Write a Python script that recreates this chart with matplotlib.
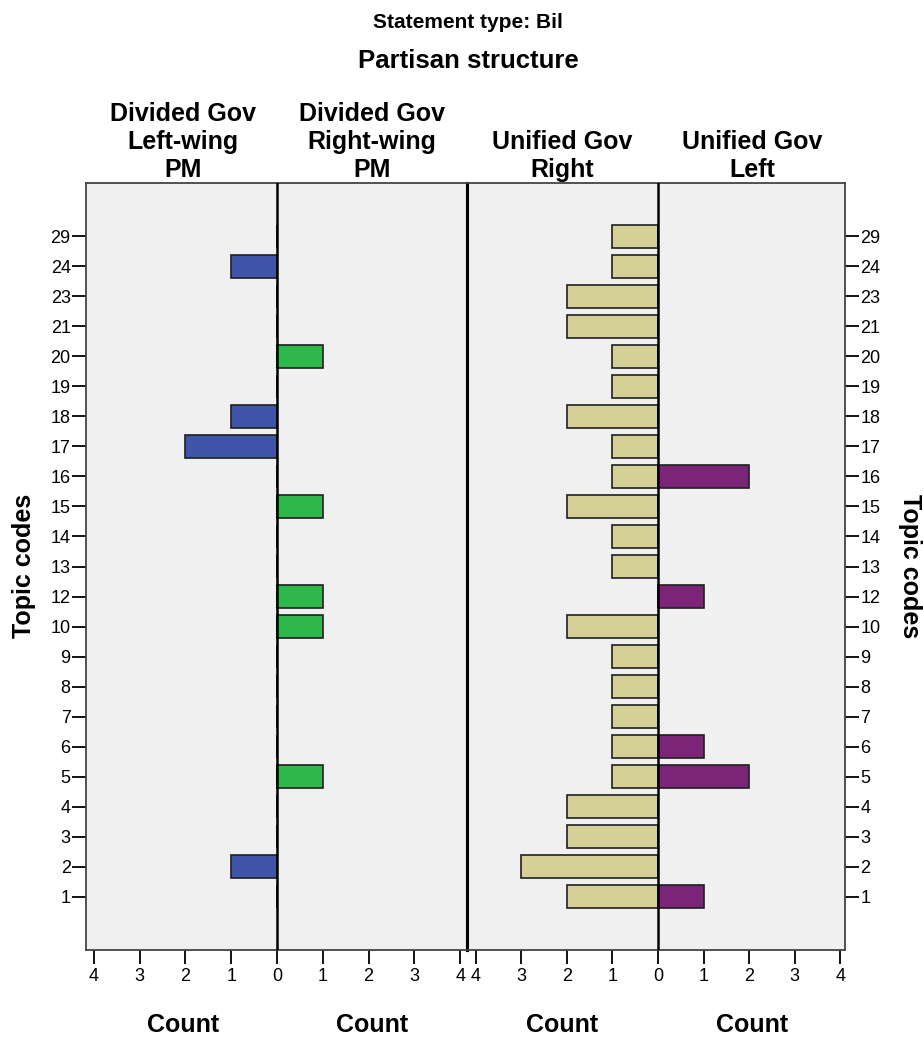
import matplotlib.pyplot as plt
import numpy as np

plt.rcParams['font.family'] = ['Liberation Sans', 'DejaVu Sans']

# topic codes, top to bottom
topics = ["29", "24", "23", "21", "20", "19", "18", "17", "16", "15", "14", "13",
          "12", "10", "9", "8", "7", "6", "5", "4", "3", "2", "1"]

# counts per topic for each partisan structure
div_left = [0, 1, 0, 0, 0, 0, 1, 2, 0, 0, 0, 0, 0, 0, 0, 0, 0, 0, 0, 0, 0, 1, 0]
div_right = [0, 0, 0, 0, 1, 0, 0, 0, 0, 1, 0, 0, 1, 1, 0, 0, 0, 0, 1, 0, 0, 0, 0]
uni_right = [1, 1, 2, 2, 1, 1, 2, 1, 1, 2, 1, 1, 0, 2, 1, 1, 1, 1, 1, 2, 2, 3, 2]
uni_left = [0, 0, 0, 0, 0, 0, 0, 0, 2, 0, 0, 0, 1, 0, 0, 0, 0, 1, 2, 0, 0, 0, 1]

headers = ["Divided Gov\nLeft-wing\nPM", "Divided Gov\nRight-wing\nPM",
           "Unified Gov\nRight", "Unified Gov\nLeft"]

W, H = 923, 1038
fig = plt.figure(figsize=(W / 100, H / 100), dpi=100)

top, bot = 183, 950
ax1 = fig.add_axes([86 / W, (H - bot) / H, (467 - 86) / W, (bot - top) / H])
ax2 = fig.add_axes([467 / W, (H - bot) / H, (845 - 467) / W, (bot - top) / H])

y = np.arange(len(topics))
bh = 0.74
ec = "#202020"

ax1.barh(y, [-v for v in div_left], height=bh, color="#3E55A9", edgecolor=ec, linewidth=1.2, zorder=2)
ax1.barh(y, div_right, height=bh, color="#2EB84C", edgecolor=ec, linewidth=1.2, zorder=2)
ax2.barh(y, [-v for v in uni_right], height=bh, color="#D4D097", edgecolor=ec, linewidth=1.2, zorder=2)
ax2.barh(y, uni_left, height=bh, color="#7C2578", edgecolor=ec, linewidth=1.2, zorder=2)

ax1.set_xlim(-4.17, 4.15)
ax2.set_xlim(-4.19, 4.1)

ticks = [-4, -3, -2, -1, 0, 1, 2, 3, 4]
for ax in (ax1, ax2):
    ax.set_facecolor("#F0F0F0")
    ax.set_ylim(len(topics) - 1 + 1.78, -1.78)
    ax.axvline(0, color="black", linewidth=1.8, zorder=3)
    ax.set_xticks(ticks)
    ax.set_xticklabels([str(abs(t)) for t in ticks], fontsize=13)
    ax.tick_params(axis="x", direction="out", length=10, width=1.3, pad=3)
    ax.set_yticks(y)
    for s in ax.spines.values():
        s.set_color("#444444")
        s.set_linewidth(1.3)

ax1.set_yticklabels(topics, fontsize=13)
ax1.tick_params(axis="y", direction="out", length=10, width=1.3, pad=1)
ax1.spines["right"].set_color("black")
ax1.spines["right"].set_linewidth(2.2)

ax2.spines["left"].set_color("black")
ax2.spines["left"].set_linewidth(2.2)
ax2.yaxis.tick_right()
ax2.set_yticklabels(topics, fontsize=13)
ax2.tick_params(axis="y", direction="out", length=10, width=1.3, pad=1)

fig.text(24 / W, 1 - 566 / H, "Topic codes", ha="center", va="center", rotation=90,
         fontsize=18, fontweight="bold")
fig.text(910 / W, 1 - 566 / H, "Topic codes", ha="center", va="center", rotation=270,
         fontsize=18, fontweight="bold")

fig.text(468 / W, 1 - 28 / H, "Statement type: Bil", ha="center", va="baseline",
         fontsize=15, fontweight="bold", family=["Liberation Sans Narrow", "Liberation Sans"])
fig.text(468 / W, 1 - 68 / H, "Partisan structure", ha="center", va="baseline",
         fontsize=18.5, fontweight="bold")

hx = [183, 372, 562, 752]
for x, h in zip(hx, headers):
    fig.text(x / W, 1 - 177 / H, h, ha="center", va="baseline", fontsize=18,
             fontweight="bold", linespacing=1.22)
    fig.text(x / W, 1 - 1032 / H, "Count", ha="center", va="baseline", fontsize=18,
             fontweight="bold")

fig.savefig("out.png", dpi=100)
